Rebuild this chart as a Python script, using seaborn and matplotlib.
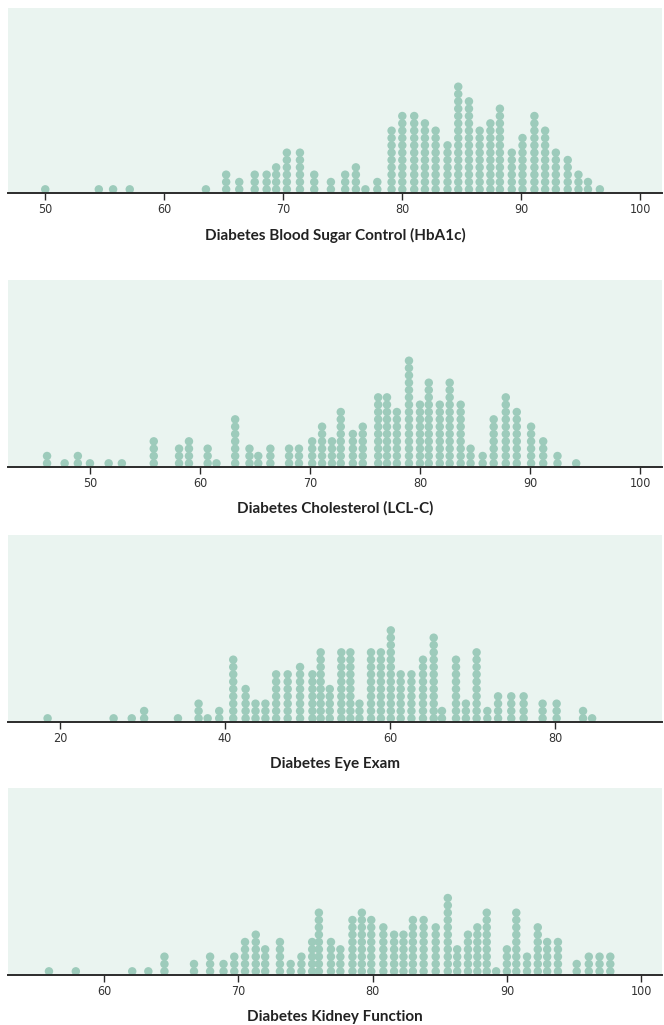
import numpy as np
import pandas as pd
import matplotlib
matplotlib.use("Agg")
import matplotlib.pyplot as plt
import seaborn as sns

# ---------------- data (column value, number of stacked dots) ----------------
hba1c_x = [50.0, 54.5, 55.7, 57.1, 63.5, 65.2, 66.3, 67.6, 68.6, 69.4, 70.3, 71.4, 72.6,
           74.0, 75.2, 76.1, 76.9, 77.9, 79.1, 80.0, 81.0, 81.9, 82.8, 83.8, 84.7, 85.6,
           86.5, 87.4, 88.2, 89.2, 90.1, 91.1, 92.0, 92.9, 93.9, 94.8, 95.6, 96.6]
hba1c_n = [1, 1, 1, 1, 1, 3, 2, 3, 3, 4, 6, 6, 3,
           2, 3, 4, 1, 2, 9, 11, 11, 10, 9, 7, 15, 13,
           9, 10, 12, 6, 8, 11, 9, 6, 5, 3, 2, 1]

ldl_x = [46.1, 47.7, 48.9, 50.0, 51.7, 52.9, 55.8, 58.1, 59.0, 60.7, 61.5, 63.2, 64.5,
         65.3, 66.4, 68.1, 69.0, 70.2, 71.1, 72.0, 72.8, 73.9, 74.8, 76.2, 77.0, 77.9,
         79.0, 80.0, 80.8, 81.8, 82.7, 83.7, 84.6, 85.7, 86.7, 87.8, 88.8, 90.1, 91.2,
         92.5, 94.2]
ldl_n = [2, 1, 2, 1, 1, 1, 4, 3, 4, 3, 1, 7, 3,
         2, 3, 3, 3, 4, 6, 4, 8, 5, 6, 10, 10, 8,
         15, 9, 12, 9, 12, 9, 3, 2, 7, 10, 8, 6, 4,
         2, 1]

eye_x = [18.5, 26.5, 28.7, 30.2, 34.3, 36.8, 37.9, 39.3, 41.0, 42.5, 43.7, 44.9, 46.2,
         47.6, 49.1, 50.6, 51.6, 52.7, 54.1, 55.2, 56.3, 57.7, 58.9, 60.1, 61.3, 62.6,
         64.0, 65.3, 66.3, 68.0, 69.2, 70.5, 71.8, 73.1, 74.7, 76.2, 78.5, 80.2, 83.4, 84.5]
eye_n = [1, 1, 1, 2, 1, 3, 1, 2, 9, 5, 3, 3, 7,
         7, 8, 7, 10, 5, 10, 10, 3, 10, 10, 13, 7, 7,
         9, 12, 2, 9, 3, 10, 2, 4, 4, 4, 3, 3, 2, 1]

kidney_x = [55.9, 57.9, 62.1, 63.3, 64.5, 66.7, 67.9, 68.9, 69.7, 70.5, 71.3, 72.0, 73.1,
            73.9, 74.7, 75.5, 76.0, 76.9, 77.6, 78.5, 79.2, 79.9, 80.8, 81.6, 82.3, 83.0,
            83.8, 84.7, 85.6, 86.3, 87.1, 87.8, 88.5, 89.2, 90.0, 90.7, 91.5, 92.3, 93.0,
            93.8, 95.2, 96.1, 96.9, 97.7]
kidney_n = [1, 1, 1, 1, 3, 2, 3, 2, 3, 5, 6, 4, 5,
            2, 3, 5, 9, 5, 4, 8, 9, 8, 7, 6, 6, 8,
            8, 7, 11, 4, 6, 7, 9, 1, 4, 9, 3, 7, 5,
            5, 2, 3, 3, 3]

titles = ["Diabetes Blood Sugar Control (HbA1c)", "Diabetes Cholesterol (LCL-C)",
          "Diabetes Eye Exam", "Diabetes Kidney Function"]
ticks_list = [[50, 60, 70, 80, 90, 100], [50, 60, 70, 80, 90, 100],
              [20, 40, 60, 80], [60, 70, 80, 90, 100]]
xlims = [(46.87, 101.82), (42.55, 102.0), (13.70, 92.97), (52.85, 101.55)]

# ---------------- style ----------------
sns.set_theme(style="white")
plt.rcParams['font.family'] = ['Lato', 'DejaVu Sans']

W, H = 664, 1025
fig = plt.figure(figsize=(W / 100, H / 100), dpi=100)
bg = "#eaf4f0"
dot = "#9dcbbb"
ink = "#2b2b2b"
step_px = 7.33

# (axis-line y in px, panel height in px)
layout = [(193, 185), (467, 187), (722, 187), (975, 187)]
series = [(hba1c_x, hba1c_n), (ldl_x, ldl_n), (eye_x, eye_n), (kidney_x, kidney_n)]

for (axis_y, h), (xs, ns), title, ticks, xl in zip(layout, series, titles, ticks_list, xlims):
    ax = fig.add_axes([8 / W, 1 - axis_y / H, 654 / W, h / H])
    ax.set_facecolor(bg)
    rows = [(x, k + 0.5) for x, n in zip(xs, ns) for k in range(n)]
    df = pd.DataFrame(rows, columns=["value", "level"])
    sns.scatterplot(data=df, x="value", y="level", ax=ax, s=37, color=dot,
                    edgecolor="none", linewidth=0, legend=False)
    ax.set_xlim(*xl)
    ax.set_ylim(0, h / step_px)
    ax.set_yticks([])
    ax.set_ylabel("")
    ax.set_xticks(ticks)
    ax.set_xticklabels([str(t) for t in ticks])
    for s in ["top", "left", "right"]:
        ax.spines[s].set_visible(False)
    ax.spines["bottom"].set_color(ink)
    ax.spines["bottom"].set_linewidth(1.4)
    ax.tick_params(axis="x", bottom=True, length=5, width=1, color=ink,
                   labelsize=9, labelcolor="#333333", pad=2.5)
    for lab in ax.get_xticklabels():
        lab.set_fontfamily(["DejaVu Sans"])
        lab.set_fontstretch("condensed")
    ax.set_xlabel(title, fontsize=11, fontweight="bold", color="#222222", labelpad=8)
    ax.grid(False)

fig.savefig("out.png", dpi=100, facecolor="white")
